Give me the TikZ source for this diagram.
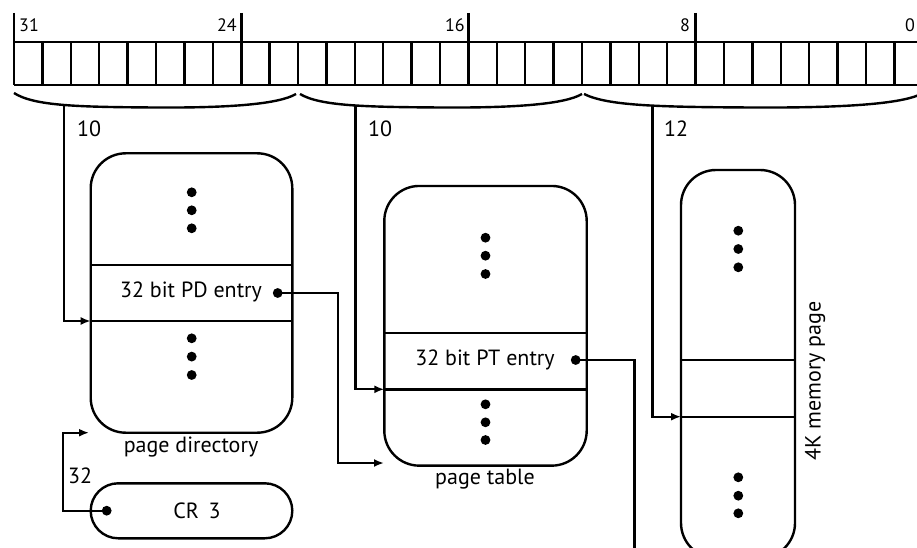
\documentclass[tikz,border=0pt]{standalone}
\usepackage{fontspec}
\setmainfont{PT Sans}
\usetikzlibrary{arrows.meta}

\begin{document}
\begin{tikzpicture}[x=1pt, y=-1pt, line width=2.4pt,
  conn/.style={line width=2.2pt, -{Latex[length=10pt,width=8pt]}},
  store/.style={draw, rounded corners=35pt, outer sep=0pt, inner sep=0pt},
  dot/.style={circle, fill, inner sep=0pt, minimum size=9.8pt, outer sep=0pt},
  bitnum/.style={font=\fontsize{18}{18}\selectfont, inner sep=0pt},
  lbl/.style={font=\fontsize{22}{22}\selectfont, inner sep=0pt}]

\useasboundingbox (0,0) rectangle (917,548);
\clip (0,0) rectangle (917,548);

% 32-bit linear address register
\draw (14,42) -- (923,42);
\draw (14,85) -- (923,85);
\foreach \i in {0,...,32} \draw ({14+\i*28.4},42) -- ({14+\i*28.4},85);
\foreach \i in {0,8,16,24} \draw[line width=2.7pt] ({14+\i*28.4},13) -- ({14+\i*28.4},85);

\node[bitnum, anchor=base west] (b31) at (18,32) {31};
\node[bitnum, anchor=base east] (b24) at (238,32) {24};
\node[bitnum, anchor=base east] (b16) at (466,32) {16};
\node[bitnum, anchor=base east] (b8)  at (691,32) {8};
\node[bitnum, anchor=base west] (b0)  at (904,32) {0};

% field braces
\draw (14,93) .. controls (34,106) and (79,107) .. (155,107.5)
             .. controls (231,108) and (279,104) .. (296,94);
\draw (300,94) .. controls (320,106) and (365,107) .. (441,107.5)
             .. controls (517,108) and (565,104) .. (582,94);
\draw (584,94) .. controls (608,106) and (661,107) .. (752,107.5)
             .. controls (843,108) and (901,104) .. (921,94);

\coordinate (p1) at (64,106.5);
\coordinate (p2) at (355.5,106.5);
\coordinate (p3) at (652.5,106.8);

\node[lbl, anchor=base west] (w1) at (76,137) {10};
\node[lbl, anchor=base west] (w2) at (367,137) {10};
\node[lbl, anchor=base west] (w3) at (663,137) {12};

% page directory
\node[store, minimum width=201.6pt, minimum height=279.4pt] (pd) at (191.5,293) {};
\draw (90.7,265) -- (292.3,265);
\draw (90.7,321) -- (292.3,321);
\foreach \y in {192.3,210.3,228.3,338.3,356.6,375} \node[dot] at (191.7,\y) {};
\node[lbl] (pdtext) at (191,292) {32 bit PD entry};
\node[dot] (pddot) at (277.7,293) {};
\node[lbl] (pdname) at (191,447) {page directory};

% CR3
\node[draw, rounded corners=27.5pt, outer sep=0pt, minimum width=201.6pt, minimum height=55pt] (cr) at (191.5,510.8) {};
\node[lbl] (crtext) at (197,511) {CR\, 3};
\node[dot] (crdot) at (106.7,510.7) {};
\node[lbl, anchor=base west] (w4) at (67,483) {32};

% page table
\node[store, minimum width=202.4pt, minimum height=279.7pt] (pt) at (485.5,325.8) {};
\draw (384.3,332.7) -- (586.7,332.7);
\draw (384.3,389.3) -- (586.7,389.3);
\foreach \y in {237.7,255.7,274,404.3,422.3,440} \node[dot] at (485.5,\y) {};
\node[lbl] (pttext) at (485,360) {32 bit PT entry};
\node[dot] (ptdot) at (575.7,360) {};
\node[lbl] (ptname) at (485,479) {page table};

% 4K memory page
\node[store, minimum width=114pt, minimum height=388pt] (mem) at (738,364) {};
\draw (681,360) -- (795,360);
\draw (681,416.7) -- (795,416.7);
\foreach \y in {230.7,249,267.3,477.3,495.7,513.3} \node[dot] at (738.3,\y) {};
\node[lbl, rotate=90] (memname) at (815,381) {4K memory page};

% arrow targets and bends
\coordinate (pdin)  at (90.7,321);
\coordinate (ptin)  at (384.3,389.3);
\coordinate (memin) at (681,416.7);
\coordinate (pdbend) at (338,293);
\coordinate (ptin2)  at (384,463);
\coordinate (ptbend) at (634.5,360);
\coordinate (memin2) at (681,553);
\coordinate (crbend) at (63.3,510.7);
\coordinate (pdin2)  at (89,432.7);

% connectors
\draw[conn] (p1) |- (pdin);
\draw[conn] (p2) |- (ptin);
\draw[conn] (p3) |- (memin);
\draw[conn] (pddot.center) -- (pdbend) |- (ptin2);
\draw[conn] (ptdot.center) -- (ptbend) |- (memin2);
\draw[conn] (crdot.center) -- (crbend) |- (pdin2);

\end{tikzpicture}
\end{document}
